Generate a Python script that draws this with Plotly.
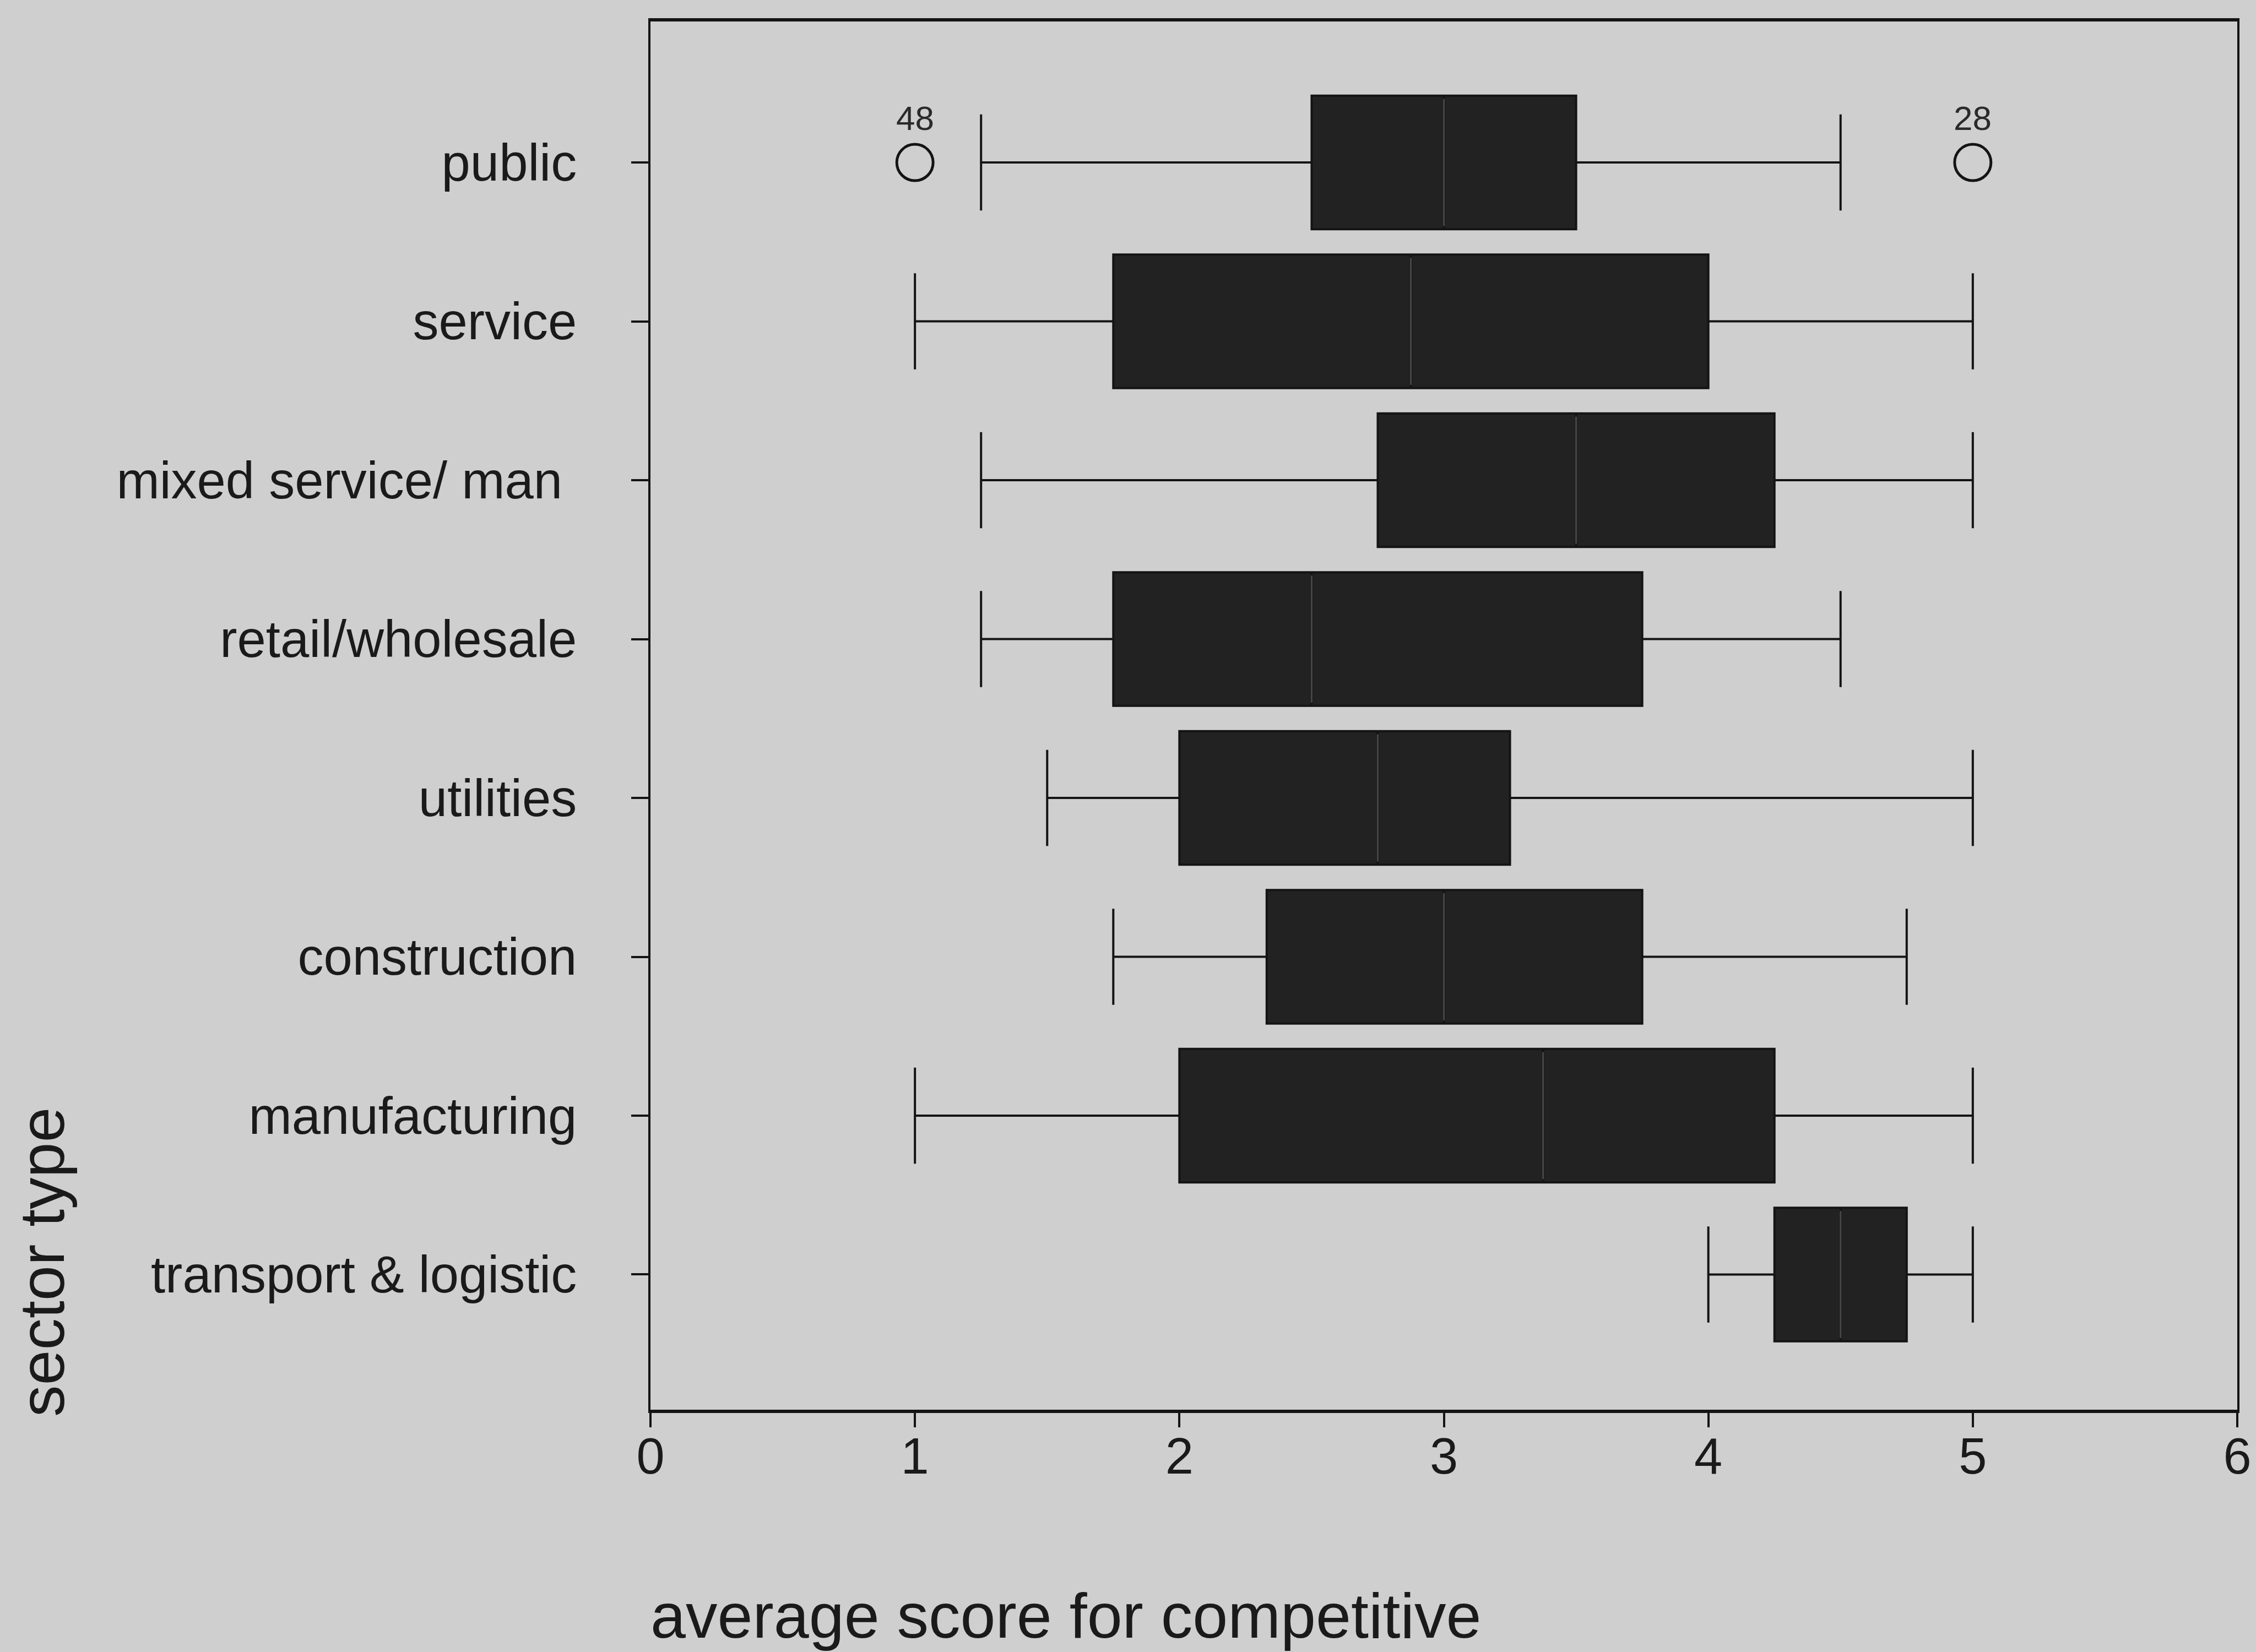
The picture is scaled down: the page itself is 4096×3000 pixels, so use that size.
import plotly.graph_objects as go

# ---- data ----
sectors = ["public", "service", "mixed service/ man\u00a0", "retail/wholesale",
           "utilities", "construction", "manufacturing", "transport & logistic"]
lower_whisker = [1.25, 1.0, 1.25, 1.25, 1.5, 1.75, 1.0, 4.0]
q1_values     = [2.5, 1.75, 2.75, 1.75, 2.0, 2.33, 2.0, 4.25]
median_values = [3.0, 2.875, 3.5, 2.5, 2.75, 3.0, 3.375, 4.5]
q3_values     = [3.5, 4.0, 4.25, 3.75, 3.25, 3.75, 4.25, 4.75]
upper_whisker = [4.5, 5.0, 5.0, 4.5, 5.0, 4.75, 5.0, 5.0]
outlier_sector = ["public", "public"]
outlier_values = [1.0, 5.0]
outlier_labels = ["48", "28"]
x_ticks = [0, 1, 2, 3, 4, 5, 6]

# ---- layout constants (pixels in a 4096 x 3000 window) ----
W, H = 4096, 3000
L, R, T, B = 1181, 4088, 39, 2560
PW, PH = R - L, B - T
BG = "#cfcfcf"
INK = "#141414"
FONT = "Liberation Sans, Arial, sans-serif"

pos = list(range(len(sectors)))
idx = {s: i for i, s in enumerate(sectors)}
box_w = 0.84

fig = go.Figure()

fig.add_trace(go.Box(
    orientation="h",
    y=pos,
    q1=q1_values, median=median_values, q3=q3_values,
    lowerfence=lower_whisker, upperfence=upper_whisker,
    width=box_w, whiskerwidth=0.72,
    fillcolor="#222222",
    line=dict(color=INK, width=4),
    boxpoints=False,
    showlegend=False,
    hoverinfo="skip",
))

# faint median lines inside the dark boxes
mx, my = [], []
for i, m in enumerate(median_values):
    mx += [m, m, None]
    my += [i - box_w / 2 + 0.02, i + box_w / 2 - 0.02, None]
fig.add_trace(go.Scatter(x=mx, y=my, mode="lines",
                         line=dict(color="#474747", width=3),
                         showlegend=False, hoverinfo="skip"))

# outliers
fig.add_trace(go.Scatter(
    x=outlier_values, y=[idx[s] for s in outlier_sector], mode="markers",
    marker=dict(symbol="circle-open", size=66, color=INK, line=dict(width=5, color=INK)),
    showlegend=False, hoverinfo="skip"))

for xv, s, lab in zip(outlier_values, outlier_sector, outlier_labels):
    fig.add_annotation(x=xv, y=idx[s], xref="x", yref="y", text=lab,
                       showarrow=False, yanchor="bottom", xanchor="center",
                       yshift=44,
                       font=dict(family="Liberation Sans Narrow, " + FONT, size=62, color="#2a2a2a"))

# axis titles (placed as in the reference)
def px_to_paper_x(px):
    return (px - L) / PW

def px_to_paper_y(py):
    return (B - py) / PH

fig.add_annotation(text="average score for competitive", xref="paper", yref="paper",
                   x=px_to_paper_x(1179), y=px_to_paper_y(2934),
                   xanchor="left", yanchor="middle", showarrow=False,
                   font=dict(family=FONT, size=115, color="#1a1a1a"))
fig.add_annotation(text="sector type", xref="paper", yref="paper",
                   x=px_to_paper_x(66), y=px_to_paper_y(2292),
                   xanchor="center", yanchor="middle", textangle=-90, showarrow=False,
                   font=dict(family=FONT, size=115, color="#1a1a1a"))

fig.update_layout(
    width=W, height=H, autosize=False,
    margin=dict(l=L, r=W - R, t=T, b=H - B, pad=0),
    paper_bgcolor=BG, plot_bgcolor=BG,
    font=dict(family=FONT, color="#1a1a1a"),
    xaxis=dict(range=[0, 6], tickvals=x_ticks, ticktext=[str(v) for v in x_ticks],
               ticks="outside", ticklen=26, tickwidth=4, tickcolor=INK,
               showline=True, linewidth=6, linecolor=INK, mirror=True,
               showgrid=False, zeroline=False,
               tickfont=dict(size=92, family=FONT, color="#1a1a1a"),
               ticklabelstandoff=-26, ticklabeloverflow="allow"),
    yaxis=dict(range=[7.851, -0.8875], tickvals=pos, ticktext=sectors,
               ticks="outside", ticklen=31, tickwidth=4, tickcolor=INK,
               showline=True, linewidth=4, linecolor=INK, mirror=True,
               showgrid=False, zeroline=False,
               tickfont=dict(size=94, family=FONT, color="#1a1a1a"),
               ticklabelstandoff=80),
)

fig.write_html("out.html",
               config={"displayModeBar": False, "staticPlot": True},
               post_script="document.body.style.margin='0';"
                           "document.body.style.background='#cfcfcf';"
                           "document.documentElement.style.overflow='hidden';")
